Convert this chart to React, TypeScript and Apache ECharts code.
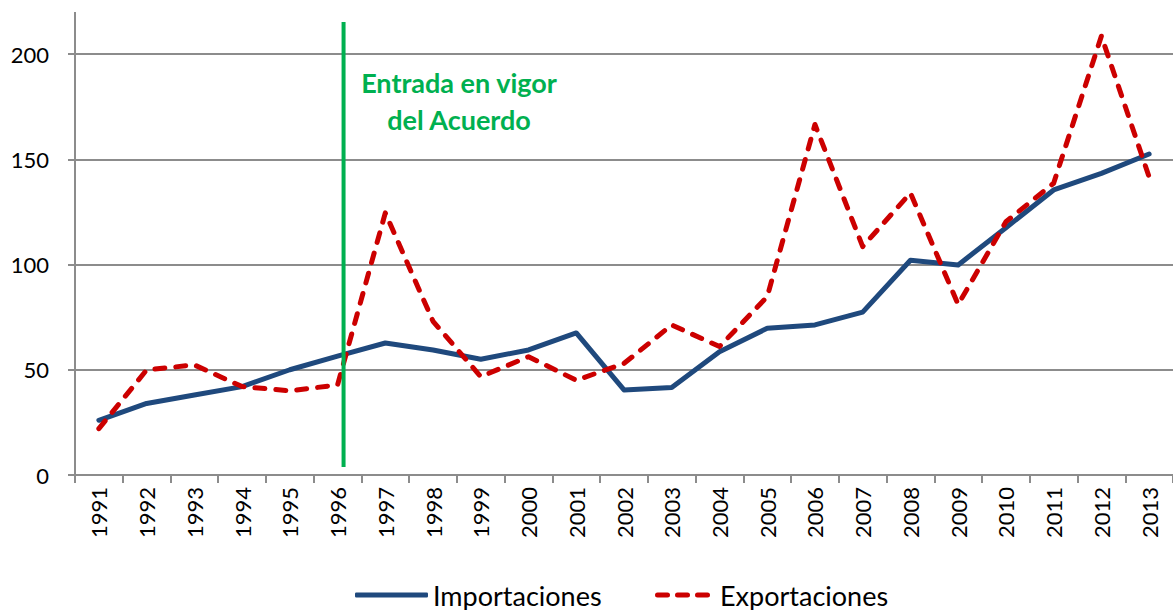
import React, { useEffect, useRef } from "react";
import * as echarts from "echarts";

const years = [
  "1991", "1992", "1993", "1994", "1995", "1996", "1997", "1998", "1999", "2000",
  "2001", "2002", "2003", "2004", "2005", "2006", "2007", "2008", "2009", "2010",
  "2011", "2012", "2013",
];
const importaciones = [
  26, 34, 38, 42, 50, 56.5, 62.7, 59.4, 55, 59.4, 67.5, 40.4, 41.6, 58.6, 69.7,
  71.3, 77.4, 102, 99.8, 117.5, 135.4, 143.3, 152.5,
];
const exportaciones = [
  22, 49.9, 52.3, 42, 40, 42.8, 124.5, 73, 46.7, 56.2, 45, 53, 71.3, 61, 84.7,
  166.5, 108.5, 134, 81, 120.3, 138.6, 208.5, 141.6,
];
const yTicks = [0, 50, 100, 150, 200];
const eventYear = "1996";
const eventText = "Entrada en vigor\ndel Acuerdo";

const FONT = "Lato";
const BLUE = "#1f497d";
const RED = "#cc0000";
const DASH_ICON =
  "path://M2.5,0h10a2.5,2.5,0,0,1,0,5h-10a2.5,2.5,0,0,1,0,-5z" +
  "M22.5,0h10a2.5,2.5,0,0,1,0,5h-10a2.5,2.5,0,0,1,0,-5z" +
  "M42.5,0h10a2.5,2.5,0,0,1,0,5h-10a2.5,2.5,0,0,1,0,-5z";

export default function App() {
  const ref = useRef<HTMLDivElement>(null);
  useEffect(() => {
    if (!ref.current) return;
    const chart = echarts.init(ref.current, null, { renderer: "svg" });
    const option: any = {
      animation: false,
      backgroundColor: "#ffffff",
      textStyle: { fontFamily: FONT },
      grid: { left: 75, right: 0, top: 54, bottom: 135, containLabel: false },
      xAxis: {
        type: "category",
        data: years,
        boundaryGap: true,
        axisLine: { show: true, lineStyle: { color: "#8c8c8c", width: 2 } },
        axisTick: { show: true, interval: 0, length: 8, lineStyle: { color: "#8c8c8c", width: 2 } },
        axisLabel: {
          interval: 0,
          rotate: 90,
          margin: 12,
          color: "#000000",
          fontSize: 22,
          fontFamily: FONT,
        },
        splitLine: { show: false },
      },
      yAxis: {
        type: "value",
        min: yTicks[0],
        max: yTicks[yTicks.length - 1],
        interval: 50,
        axisLine: { show: true, lineStyle: { color: "#8c8c8c", width: 2 } },
        axisTick: { show: true, length: 7, lineStyle: { color: "#8c8c8c", width: 2 } },
        axisLabel: { margin: 26, color: "#000000", fontSize: 22, fontFamily: FONT },
        splitLine: { show: true, lineStyle: { color: "#8c8c8c", width: 2 } },
      },
      legend: [
        {
          data: [{ name: "Importaciones", icon: "roundRect", itemStyle: { color: BLUE } }],
          left: 355,
          top: 580,
          padding: 0,
          itemWidth: 73,
          itemHeight: 5,
          textStyle: { fontSize: 27, lineHeight: 30, color: "#000000", fontFamily: FONT },
        },
        {
          data: [{ name: "Exportaciones", icon: DASH_ICON, itemStyle: { color: RED } }],
          left: 655,
          top: 580,
          padding: 0,
          itemWidth: 55,
          itemHeight: 5,
          textStyle: {
            fontSize: 27,
            lineHeight: 30,
            color: "#000000",
            fontFamily: FONT,
            padding: [0, 0, 0, 5],
          },
        },
      ],
      series: [
        {
          name: "Importaciones",
          type: "line",
          data: importaciones,
          symbol: "none",
          clip: false,
          lineStyle: { color: BLUE, width: 5, cap: "round", join: "round" },
          itemStyle: { color: BLUE },
          z: 3,
        },
        {
          name: "Exportaciones",
          type: "line",
          data: exportaciones,
          symbol: "none",
          clip: false,
          lineStyle: { color: RED, width: 5, type: [10, 11], cap: "round", join: "round" },
          itemStyle: { color: RED },
          z: 4,
        },
      ],
    };
    chart.setOption(option);

    const ex = chart.convertToPixel({ xAxisIndex: 0 }, eventYear) as number;
    const xLine = ex + 6;
    chart.setOption({
      graphic: [
        {
          type: "line",
          shape: { x1: 75, y1: 12, x2: 75, y2: 54 },
          style: { stroke: "#8c8c8c", lineWidth: 2 },
          z: 1,
        },
        {
          type: "line",
          shape: { x1: xLine, y1: 22, x2: xLine, y2: 467 },
          style: { stroke: "#00b050", lineWidth: 4 },
          z: 10,
        },
        {
          type: "text",
          x: 459,
          y: 64,
          style: {
            text: eventText,
            fill: "#00b050",
            fontFamily: FONT,
            fontWeight: "bold",
            fontSize: 27,
            lineHeight: 37,
            align: "center",
            verticalAlign: "top",
          },
          z: 10,
        },
      ],
    });
    return () => chart.dispose();
  }, []);
  return (
    <div
      ref={ref}
      style={{ position: "fixed", left: 0, top: 0, width: 1173, height: 610 }}
    />
  );
}
